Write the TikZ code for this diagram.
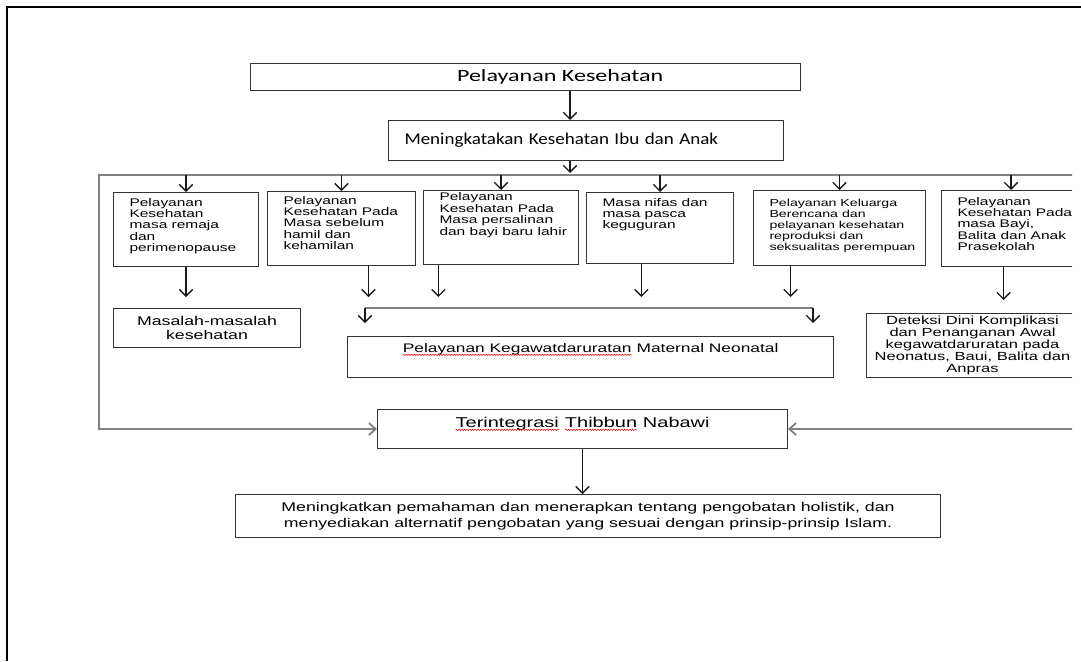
\documentclass[tikz,border=0pt]{standalone}
\usepackage{fontspec}
\setmainfont{Liberation Sans}[FakeStretch=1.4]
\newfontfamily\calx{Carlito}[FakeStretch=1.4]
\newfontfamily\calm{Carlito}[FakeStretch=1.15]
\usetikzlibrary{arrows.meta,decorations.pathmorphing}

\newdimen\pxu \pxu=0.75pt
% box text sits at the top left, as in the original
\newcommand{\topcell}[4]{\parbox[t][#2][t]{#1}{\vspace*{#3}\leftskip=12pt\relax #4\par}}
% red spell-check wave under a word
\newcommand{\typo}[1]{\tikz[baseline=(w.base)]{\node[draw=none,fill=none,inner sep=0pt,outer sep=0pt,minimum width=0pt,minimum height=0pt,anchor=base] (w) {#1};
  \draw[red,line width=0.4pt,decorate,decoration={snake,amplitude=0.5pt,segment length=2pt}] ([yshift=-1.8pt]w.base west) -- ([yshift=-1.8pt]w.base east);}}

\begin{document}
\begin{tikzpicture}[x=\pxu,y=-\pxu]
  \tikzstyle{frame}=[draw,black,line width=1.5pt]
  \tikzstyle{item}=[draw=black!80,line width=0.75pt,inner sep=0pt,anchor=north west]
  \tikzstyle{cell}=[item,font=\fontsize{8.3}{8.4}\selectfont]
  \tikzstyle{link}=[draw,black!90,line width=1pt,-{Straight Barb[length=5pt,width=10pt]}]
  \tikzstyle{rail}=[draw,black!50,line width=1.4pt]
  \useasboundingbox (0,0) rectangle (1081,661);
  \path[frame] (7,661) -- (7,7) -- (1081,7);

  \begin{scope}
    \clip (0,0) rectangle (1072,661);
    \coordinate (spine) at (570,0);
    \coordinate (railL) at (99,175);
    \coordinate (railR) at (1080,175);
    \coordinate (kL) at (365,308);
    \coordinate (kR) at (813,308);

    \node[item,minimum width=550\pxu,minimum height=27\pxu,font=\calx\fontsize{12.9}{15}\selectfont] (pk) at (250,63) {\hspace*{52pt}Pelayanan Kesehatan};
    \node[item,minimum height=40\pxu,inner xsep=12pt,text width=272.25pt,align=left,font=\calm\fontsize{12.4}{14}\selectfont] (mk) at (388,120) {Meningkatakan Kesehatan Ibu dan Anak};

    % six services
    \node[cell] (b1) at (113,192) {\topcell{145\pxu}{74\pxu}{4.5pt}{Pelayanan\\Kesehatan\\masa remaja\\dan\\perimenopause}};
    \node[cell] (b2) at (267,191) {\topcell{148\pxu}{74\pxu}{3.75pt}{Pelayanan\\Kesehatan Pada\\Masa sebelum\\hamil dan\\kehamilan}};
    \node[cell,font=\fontsize{8.3}{8.8}\selectfont] (b3) at (423,190) {\topcell{155\pxu}{74\pxu}{1.5pt}{Pelayanan\\Kesehatan Pada\\Masa persalinan\\dan bayi baru lahir}};
    \node[cell] (b4) at (586,192) {\topcell{147\pxu}{71\pxu}{4.5pt}{Masa nifas dan\\masa pasca\\keguguran}};
    \node[cell,font=\fontsize{7.6}{8.3}\selectfont] (b5) at (753,190) {\topcell{172\pxu}{75\pxu}{6.5pt}{Pelayanan Keluarga\\Berencana dan\\pelayanan kesehatan\\reproduksi dan\\seksualitas perempuan}};
    \node[cell] (b6) at (941,190) {\topcell{139\pxu}{76\pxu}{5.25pt}{Pelayanan\\Kesehatan Pada\\masa Bayi,\\Balita dan Anak\\Prasekolah}};

    \node[item,minimum width=187\pxu,minimum height=39\pxu,align=center,font=\fontsize{9.5}{10}\selectfont] (ms) at (113,308) {Masalah-masalah\\kesehatan};
    \node[item,font=\fontsize{9.3}{11}\selectfont] (kg) at (347,336) {\parbox[t][41\pxu][t]{486\pxu}{\centering\vspace*{5.2pt}\typo{Pelayanan Kegawatdaruratan} Maternal Neonatal\par}};
    \node[item,minimum width=212\pxu,minimum height=64\pxu,align=center,font=\fontsize{8.85}{8.9}\selectfont] (dt) at (866,313) {Deteksi Dini Komplikasi\\dan Penanganan Awal\\kegawatdaruratan pada\\Neonatus, Baui, Balita dan\\Anpras};
    \node[item,font=\fontsize{10.7}{12}\selectfont] (ti) at (377,409) {\parbox[t][39\pxu][t]{410\pxu}{\centering\vspace*{5.7pt}\typo{Terintegrasi} \typo{Thibbun} Nabawi\par}};
    \node[item,minimum width=705\pxu,minimum height=43\pxu,align=center,font=\fontsize{9.5}{12}\selectfont] (bt) at (235,494) {Meningkatkan pemahaman dan menerapkan tentang pengobatan holistik, dan\\menyediakan alternatif pengobatan yang sesuai dengan prinsip-prinsip Islam.};

    % connectors
    \path[link] (pk.south -| spine) -- (mk.north -| spine);
    \path[link,shorten >=1.5pt] (mk.south -| spine) -- (railL -| spine);
    \path[rail,-{Straight Barb[length=5pt,width=9pt]}] (railR) -- (railL) |- (ti.west);
    \path[rail,-{Straight Barb[length=5pt,width=9pt]}] (railR |- ti.west) -- (ti.east);
    \foreach \b in {b1,b2,b3,b4,b5,b6}
      \path[link] (railL -| \b.north) -- (\b.north);

    \path[link,shorten >=8.25pt] (b1.south) -- (b1.south |- ms.north);
    \path[link,shorten >=8.25pt] ([xshift=20.25pt]b2.south) -- ([xshift=20.25pt]b2.south |- kL);
    \path[link,shorten >=8.25pt] ([xshift=-46.9pt]b3.south) -- ([xshift=-46.9pt]b3.south |- kL);
    \path[link,shorten >=8.25pt] ([xshift=-13.9pt]b4.south) -- ([xshift=-13.9pt]b4.south |- kL);
    \path[link,shorten >=8.25pt] ([xshift=-36.75pt]b5.south) -- ([xshift=-36.75pt]b5.south |- kL);
    \path[link,shorten >=9.75pt] ([xshift=-5.6pt]b6.south) -- ([xshift=-5.6pt]b6.south |- dt.north);

    \path[rail] (kL) -- (kR);
    \path[link,shorten >=9.75pt] (kL) -- (kL |- kg.north);
    \path[link,shorten >=9.75pt] (kR) -- (kR |- kg.north);
    \path[link] (ti.south) -- (ti.south |- bt.north);
  \end{scope}
\end{tikzpicture}
\end{document}
